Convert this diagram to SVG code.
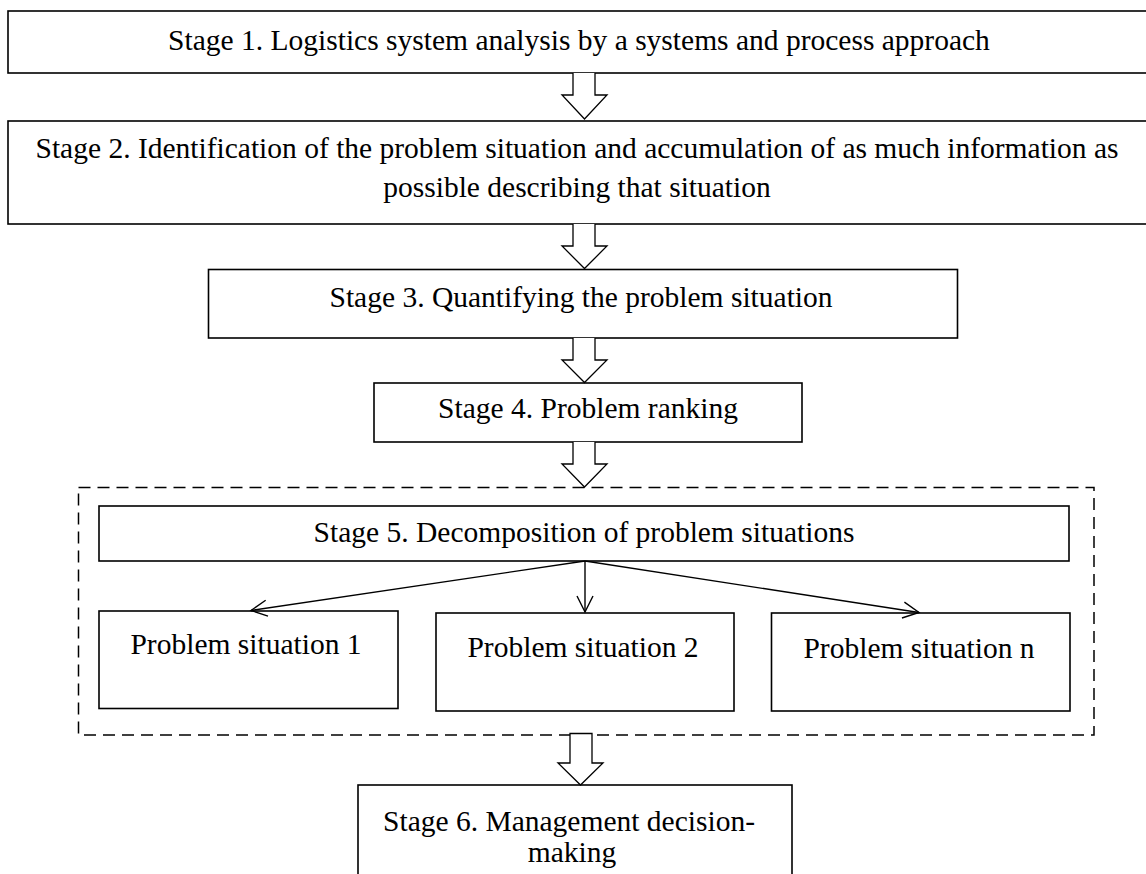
<svg xmlns="http://www.w3.org/2000/svg" width="1146" height="874" viewBox="0 0 1146 874">
<defs>
<style>
.box{fill:#fff;stroke:#000;stroke-width:1.6}
.dash{fill:none;stroke:#000;stroke-width:1.5;stroke-dasharray:12 7}
.blk{fill:#fff;stroke:#000;stroke-width:1.3;stroke-linejoin:miter}
.con{fill:none;stroke:#000;stroke-width:1.4}
text{font-family:"Liberation Serif","Times New Roman",serif;font-size:29.5px;fill:#000;text-anchor:middle}
</style>
<marker id="open" viewBox="0 0 20 20" refX="18" refY="10" markerWidth="20" markerHeight="20" markerUnits="userSpaceOnUse" orient="auto">
<path d="M2,2 L18,10 L2,18" fill="none" stroke="#000" stroke-width="1.4"/>
</marker>
</defs>
<rect width="1146" height="874" fill="#fff"/>
<g id="container">
<rect class="dash" x="78.5" y="487.5" width="1015.5" height="247.5"/>
</g>
<g id="stage1">
<rect class="box" x="8" y="11" width="1145" height="62"/>
<text x="579" y="50">Stage 1. Logistics system analysis by a systems and process approach</text>
</g>
<g id="stage2">
<rect class="box" x="8" y="121" width="1145" height="103"/>
<text x="577" y="158">Stage 2. Identification of the problem situation and accumulation of as much information as</text>
<text x="577" y="197">possible describing that situation</text>
</g>
<g id="stage3">
<rect class="box" x="208.5" y="269.5" width="749" height="68.5"/>
<text x="581" y="307">Stage 3. Quantifying the problem situation</text>
</g>
<g id="stage4">
<rect class="box" x="374" y="383" width="428" height="59"/>
<text x="588" y="418">Stage 4. Problem ranking</text>
</g>
<g id="stage5">
<rect class="box" x="99" y="506" width="970" height="55"/>
<text x="584" y="542">Stage 5. Decomposition of problem situations</text>
</g>
<g id="ps1">
<rect class="box" x="99" y="611" width="299" height="97.5"/>
<text x="246" y="654">Problem situation 1</text>
</g>
<g id="ps2">
<rect class="box" x="436" y="613" width="298" height="98"/>
<text x="583" y="657">Problem situation 2</text>
</g>
<g id="psn">
<rect class="box" x="771.5" y="613" width="298.5" height="98"/>
<text x="919" y="658">Problem situation n</text>
</g>
<g id="stage6">
<rect class="box" x="358" y="785" width="434" height="120"/>
<text x="569" y="831">Stage 6. Management decision-</text>
<text x="572" y="862">making</text>
</g>
<g id="connectors">
<path class="blk" d="M573,73 V95 H562 L584.5,119 L607,95 H595 V73"/>
<path class="blk" d="M573,224 V246 H562 L584.5,268.5 L607,246 H595 V224"/>
<path class="blk" d="M573,338 V360 H562 L584.5,382.5 L607,360 H595 V338"/>
<path class="blk" d="M573,442 V464 H562 L584.5,487 L607,464 H595 V442"/>
<path class="blk" d="M570,733.5 V763 H558 L580.5,785 L603,763 H592 V733.5 Z"/>
<line class="con" x1="585" y1="561" x2="251" y2="610.5" marker-end="url(#open)"/>
<line class="con" x1="585" y1="561" x2="585" y2="612" marker-end="url(#open)"/>
<line class="con" x1="585" y1="561" x2="919" y2="612.5" marker-end="url(#open)"/>
</g>
</svg>
